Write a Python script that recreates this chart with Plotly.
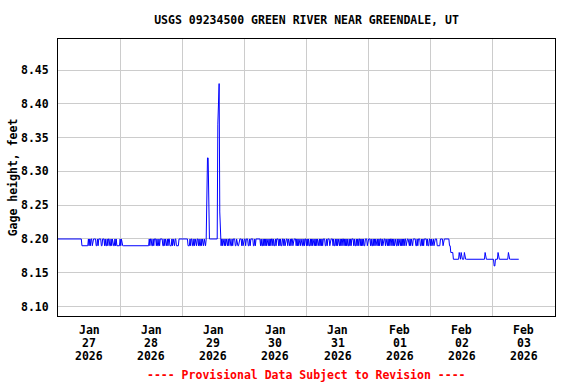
import pandas as pd
import plotly.graph_objects as go

# Gage height readings (15-minute interval), in hundredths of a foot above 8.00 ft.
# Each list starts at the given day's 00:00.
jan27 = [20, 20, 20, 20, 20, 20, 20, 20, 20, 20, 20, 20,
         20, 20, 20, 20, 20, 20, 20, 20, 20, 20, 20, 20,
         20, 20, 20, 20, 20, 20, 20, 20, 20, 20, 20, 20,
         20, 19, 19, 19, 19, 19, 19, 19, 19, 19, 19, 20,
         19, 20, 19, 20, 20, 19, 20, 20, 20, 20, 20, 19,
         19, 20, 19, 20, 20, 20, 20, 19, 19, 20, 20, 20,
         19, 20, 19, 19, 20, 19, 20, 20, 19, 19, 20, 19,
         20, 19, 19, 19, 20, 19, 20, 19, 19, 19, 19, 19]
jan28 = [20, 19, 20, 19, 19, 19, 19, 19, 19, 19, 19, 19,
         19, 19, 19, 19, 19, 19, 19, 19, 19, 19, 19, 19,
         19, 19, 19, 19, 19, 19, 19, 19, 19, 19, 19, 19,
         19, 19, 19, 19, 19, 19, 19, 19, 19, 20, 19, 20,
         20, 19, 19, 20, 19, 20, 20, 20, 19, 20, 19, 19,
         20, 19, 20, 20, 20, 20, 19, 19, 20, 19, 20, 19,
         19, 20, 19, 20, 20, 19, 19, 19, 20, 19, 20, 19,
         19, 20, 20, 19, 19, 19, 19, 20, 20, 20, 20, 20]
jan29 = [20, 20, 20, 20, 20, 20, 20, 20, 20, 19, 19, 19,
         20, 19, 20, 20, 19, 19, 20, 19, 20, 19, 19, 20,
         20, 19, 20, 19, 19, 20, 19, 20, 19, 19, 20, 19,
         19, 20, 31, 32, 32, 22, 20, 20, 20, 20, 20, 20,
         20, 20, 20, 20, 20, 20, 20, 37, 43, 43, 24, 20,
         19, 20, 19, 20, 19, 19, 20, 19, 20, 19, 19, 20,
         19, 20, 20, 19, 19, 20, 19, 20, 20, 20, 19, 19,
         20, 19, 19, 19, 20, 20, 20, 20, 19, 20, 19, 20]
jan30 = [20, 20, 19, 20, 20, 20, 19, 19, 20, 19, 20, 20,
         20, 20, 19, 19, 20, 19, 20, 20, 20, 20, 20, 20,
         20, 19, 20, 19, 19, 20, 19, 20, 19, 20, 19, 20,
         19, 19, 20, 19, 20, 19, 20, 20, 19, 20, 19, 19,
         20, 19, 20, 20, 20, 19, 20, 19, 20, 19, 19, 20,
         20, 19, 20, 19, 20, 20, 20, 19, 20, 19, 19, 20,
         19, 20, 20, 19, 20, 20, 20, 20, 19, 20, 19, 20,
         19, 20, 20, 19, 20, 20, 19, 19, 20, 19, 20, 20]
jan31 = [19, 20, 19, 20, 19, 19, 20, 19, 20, 19, 20, 19,
         19, 20, 19, 20, 19, 20, 19, 19, 20, 19, 20, 19,
         20, 19, 20, 20, 20, 19, 19, 20, 19, 20, 20, 20,
         19, 20, 20, 20, 20, 19, 20, 19, 19, 20, 19, 20,
         19, 20, 19, 19, 20, 19, 20, 19, 20, 20, 19, 20,
         19, 20, 19, 20, 19, 19, 20, 19, 20, 19, 20, 20,
         20, 19, 20, 19, 19, 20, 19, 20, 19, 20, 20, 19,
         20, 19, 20, 19, 20, 19, 19, 20, 20, 20, 19, 20]
feb01 = [20, 20, 20, 19, 20, 19, 19, 20, 19, 20, 19, 20,
         19, 19, 20, 19, 20, 19, 20, 20, 19, 20, 19, 20,
         20, 20, 19, 20, 19, 19, 20, 19, 20, 19, 20, 20,
         19, 20, 19, 20, 19, 20, 20, 19, 19, 20, 19, 20,
         19, 19, 20, 19, 20, 19, 20, 19, 20, 20, 19, 20,
         20, 20, 19, 19, 20, 19, 20, 19, 19, 20, 20, 20,
         20, 19, 19, 20, 19, 20, 20, 20, 19, 19, 20, 19,
         20, 19, 20, 20, 20, 20, 19, 20, 19, 19, 20, 20]
feb02 = [19, 20, 19, 20, 20, 19, 20, 20, 20, 20, 19, 19,
         19, 19, 19, 20, 20, 20, 20, 19, 20, 20, 20, 20,
         20, 20, 20, 20, 20, 19, 19, 18, 18, 18, 18, 17,
         17, 17, 17, 17, 17, 17, 17, 17, 18, 17, 17, 18,
         17, 17, 17, 17, 18, 17, 17, 17, 17, 17, 17, 17,
         17, 17, 17, 17, 17, 17, 17, 17, 17, 17, 17, 17,
         17, 17, 17, 17, 17, 17, 17, 17, 17, 17, 17, 17,
         18, 17, 17, 17, 17, 17, 17, 17, 17, 17, 17, 17]
feb03 = [17, 17, 16, 16, 17, 17, 17, 17, 18, 17, 17, 17,
         17, 17, 17, 17, 17, 17, 17, 17, 17, 17, 17, 17,
         18, 17, 17, 17, 17, 17, 17, 17, 17, 17, 17, 17,
         17, 17, 17, 17, 17]

day_starts = ["2026-01-27", "2026-01-28", "2026-01-29", "2026-01-30",
              "2026-01-31", "2026-02-01", "2026-02-02", "2026-02-03"]
day_series = [jan27, jan28, jan29, jan30, jan31, feb01, feb02, feb03]

# X tick labels (centered on each day at noon), three rows each
tick_days = ["2026-01-27", "2026-01-28", "2026-01-29", "2026-01-30",
             "2026-01-31", "2026-02-01", "2026-02-02", "2026-02-03"]
tick_month = ["Jan", "Jan", "Jan", "Jan", "Jan", "Feb", "Feb", "Feb"]
tick_daynum = ["27", "28", "29", "30", "31", "01", "02", "03"]
tick_year = ["2026", "2026", "2026", "2026", "2026", "2026", "2026", "2026"]
y_ticks = [8.10, 8.15, 8.20, 8.25, 8.30, 8.35, 8.40, 8.45]

times, heights = [], []
for start, vals in zip(day_starts, day_series):
    t = pd.date_range(start, periods=len(vals), freq="15min")
    times.extend(t)
    heights.extend([8.0 + v / 100.0 for v in vals])

FONT = "DejaVu Sans Mono"
FS = 11.5

fig = go.Figure()
fig.add_trace(go.Scatter(x=times, y=heights, mode="lines",
                         line=dict(color="#0000ff", width=1),
                         showlegend=False, hoverinfo="x+y"))

noon_vals = [pd.Timestamp(d) + pd.Timedelta(hours=12) for d in tick_days]

# plot area spans pixel rows 39..316 (277 px)
def py(ypix):
    return (316 - ypix) / 277

annotations = []
for xv, m, d, yr in zip(noon_vals, tick_month, tick_daynum, tick_year):
    for txt, ypix in ((m, 330), (d, 343), (yr, 356)):
        annotations.append(dict(
            text=txt, x=xv, xref="x", y=py(ypix), yref="paper",
            xanchor="center", yanchor="middle", showarrow=False,
            font=dict(family=FONT, size=FS, color="black", weight="bold")))
annotations.append(dict(
    text="---- Provisional Data Subject to Revision ----",
    x=0.5, xref="paper", y=py(375), yref="paper",
    xanchor="center", yanchor="middle", showarrow=False,
    font=dict(family=FONT, size=FS, color="red", weight="bold")))

fig.update_layout(
    width=576, height=384,
    margin=dict(l=58, r=21, t=39, b=68, autoexpand=False),
    paper_bgcolor="white", plot_bgcolor="white",
    font=dict(family=FONT, size=11, color="black", weight="bold"),
    title=dict(text="USGS 09234500 GREEN RIVER NEAR GREENDALE, UT",
               x=0.5, xref="paper", xanchor="center",
               y=1 - 20 / 384, yref="container", yanchor="middle",
               font=dict(family=FONT, size=FS, color="black", weight="bold")),
    xaxis=dict(
        range=["2026-01-27 00:00", "2026-02-04 00:00"],
        automargin=False,
        tickmode="array", tickvals=noon_vals, showticklabels=False,
        showgrid=False, ticks="",
        minor=dict(tick0="2026-01-27", dtick=86400000, showgrid=True,
                   gridcolor="#cccccc", gridwidth=1, ticks=""),
        showline=True, linecolor="black", linewidth=1, mirror=True,
        zeroline=False,
    ),
    yaxis=dict(
        range=[8.086, 8.496],
        automargin=False,
        tickmode="array", tickvals=y_ticks, tickformat=".2f",
        showgrid=True, gridcolor="#cccccc", gridwidth=1,
        ticks="outside", ticklen=6, tickcolor="rgba(0,0,0,0)",
        tickfont=dict(family=FONT, size=FS, color="black", weight="bold"),
        title=dict(text="Gage height, feet", standoff=0,
                   font=dict(family=FONT, size=FS, color="black", weight="bold")),
        showline=True, linecolor="black", linewidth=1, mirror=True,
        zeroline=False,
    ),
    annotations=annotations,
)

fig.write_html("out.html", config={"displayModeBar": False},
               post_script="document.body.style.margin='0';")
